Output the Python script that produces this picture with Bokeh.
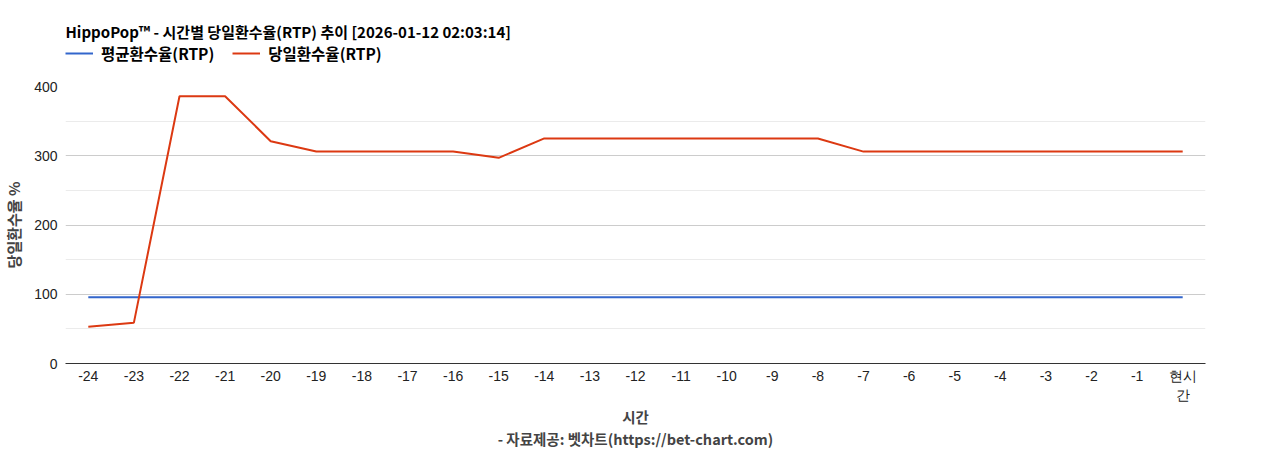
from bokeh.plotting import figure
from bokeh.models import Range1d, Legend, LegendItem, Label, FixedTicker
from bokeh.layouts import column
from bokeh.embed import file_html
from bokeh.resources import INLINE

hours = ["-24", "-23", "-22", "-21", "-20", "-19", "-18", "-17", "-16", "-15", "-14", "-13",
         "-12", "-11", "-10", "-9", "-8", "-7", "-6", "-5", "-4", "-3", "-2", "-1", "현시\n간"]
avg_rtp = [95.5] * 25
day_rtp = [53, 59, 386, 386, 321, 306, 306, 306, 306, 297, 325, 325,
           325, 325, 325, 325, 325, 306, 306, 306, 306, 306, 306, 306, 306]
y_ticks = [0, 100, 200, 300, 400]
y_minor = [50, 150, 250, 350]

KR = "Noto Sans CJK KR"
TICK = "Liberation Sans"
BLUE, RED = "#3366cc", "#dc3912"

W = 1268
HEAD_H = 80
xs = list(range(len(hours)))

# ---- header: title + legend (frame is aligned with the chart's frame by the column) ----
head = figure(width=W, height=HEAD_H, x_range=Range1d(1000, 1001), y_range=Range1d(1000, 1001),
              x_axis_type=None, y_axis_type=None,
              output_backend="svg", toolbar_location=None,
              min_border=0, min_border_left=0, min_border_right=0,
              min_border_top=0, min_border_bottom=0)
head.grid.visible = False
head.outline_line_color = None
# same series, kept outside the header's view: only their legend swatches show
h_avg = head.line(xs, avg_rtp, line_color=BLUE, line_width=2)
h_day = head.line(xs, day_rtp, line_color=RED, line_width=2)
head.add_layout(Label(x=0, y=HEAD_H - 31, x_units="screen", y_units="screen",
                      text="HippoPop™ - 시간별 당일환수율(RTP) 추이 [2026-01-12 02:03:14]",
                      text_font=KR, text_font_style="bold", text_font_size="15px",
                      text_color="#000000", text_baseline="middle", text_align="left"))
legend = Legend(items=[LegendItem(label="평균환수율(RTP)", renderers=[h_avg]),
                       LegendItem(label="당일환수율(RTP)", renderers=[h_day])],
                orientation="horizontal", location=(0, HEAD_H - 64),
                glyph_width=28, glyph_height=18, label_height=18, label_standoff=8, spacing=18,
                padding=0, margin=0, border_line_color=None, background_fill_alpha=0,
                label_text_font=KR, label_text_font_style="bold", label_text_font_size="15.5px",
                label_text_color="#000000")
head.add_layout(legend)

# ---- main chart ----
p = figure(x_range=Range1d(-0.5, len(hours) - 0.5), y_range=Range1d(0, 400),
           width=W, height=450 - HEAD_H, frame_width=1140, frame_height=277,
           output_backend="svg", toolbar_location=None,
           min_border_left=64, min_border_right=64, min_border_top=6, min_border_bottom=10)
p.outline_line_color = None

p.line(xs, avg_rtp, line_color=BLUE, line_width=2)
p.line(xs, day_rtp, line_color=RED, line_width=2)

p.yaxis.ticker = FixedTicker(ticks=y_ticks, minor_ticks=y_minor)
p.yaxis.axis_line_color = None
p.yaxis.major_tick_line_color = None
p.yaxis.minor_tick_line_color = None
p.yaxis.major_tick_out = 0
p.yaxis.major_tick_in = 0
p.yaxis.minor_tick_out = 0
p.yaxis.major_label_text_font = TICK
p.yaxis.major_label_text_font_size = "14px"
p.yaxis.major_label_text_color = "#222222"
p.yaxis.major_label_standoff = 8
p.yaxis.axis_label = "당일환수율 %"
p.yaxis.axis_label_text_font = KR
p.yaxis.axis_label_text_font_style = "bold"
p.yaxis.axis_label_text_font_size = "15px"
p.yaxis.axis_label_standoff = 7

p.xaxis.ticker = FixedTicker(ticks=xs, minor_ticks=[])
p.xaxis.major_label_overrides = {i: h for i, h in enumerate(hours)}
p.xaxis.axis_line_color = "#333333"
p.xaxis.major_tick_line_color = None
p.xaxis.minor_tick_line_color = None
p.xaxis.major_tick_out = 0
p.xaxis.major_tick_in = 0
p.xaxis.minor_tick_out = 0
p.xaxis.major_label_text_font = TICK
p.xaxis.major_label_text_font_size = "14px"
p.xaxis.major_label_text_color = "#222222"
p.xaxis.major_label_text_line_height = 1.2
p.xaxis.major_label_standoff = 4
p.xaxis.axis_label = "시간\n- 자료제공: 벳차트(https://bet-chart.com)"
p.xaxis.axis_label_text_font = KR
p.xaxis.axis_label_text_font_style = "bold"
p.xaxis.axis_label_text_font_size = "14.5px"
p.xaxis.axis_label_text_line_height = 1.06
p.xaxis.axis_label_standoff = 0

p.xgrid.grid_line_color = None
p.ygrid.grid_line_color = "#cccccc"
p.ygrid.minor_grid_line_color = "#ebebeb"

layout = column(head, p, spacing=0)
open("out.html", "w").write(file_html(layout, INLINE))
